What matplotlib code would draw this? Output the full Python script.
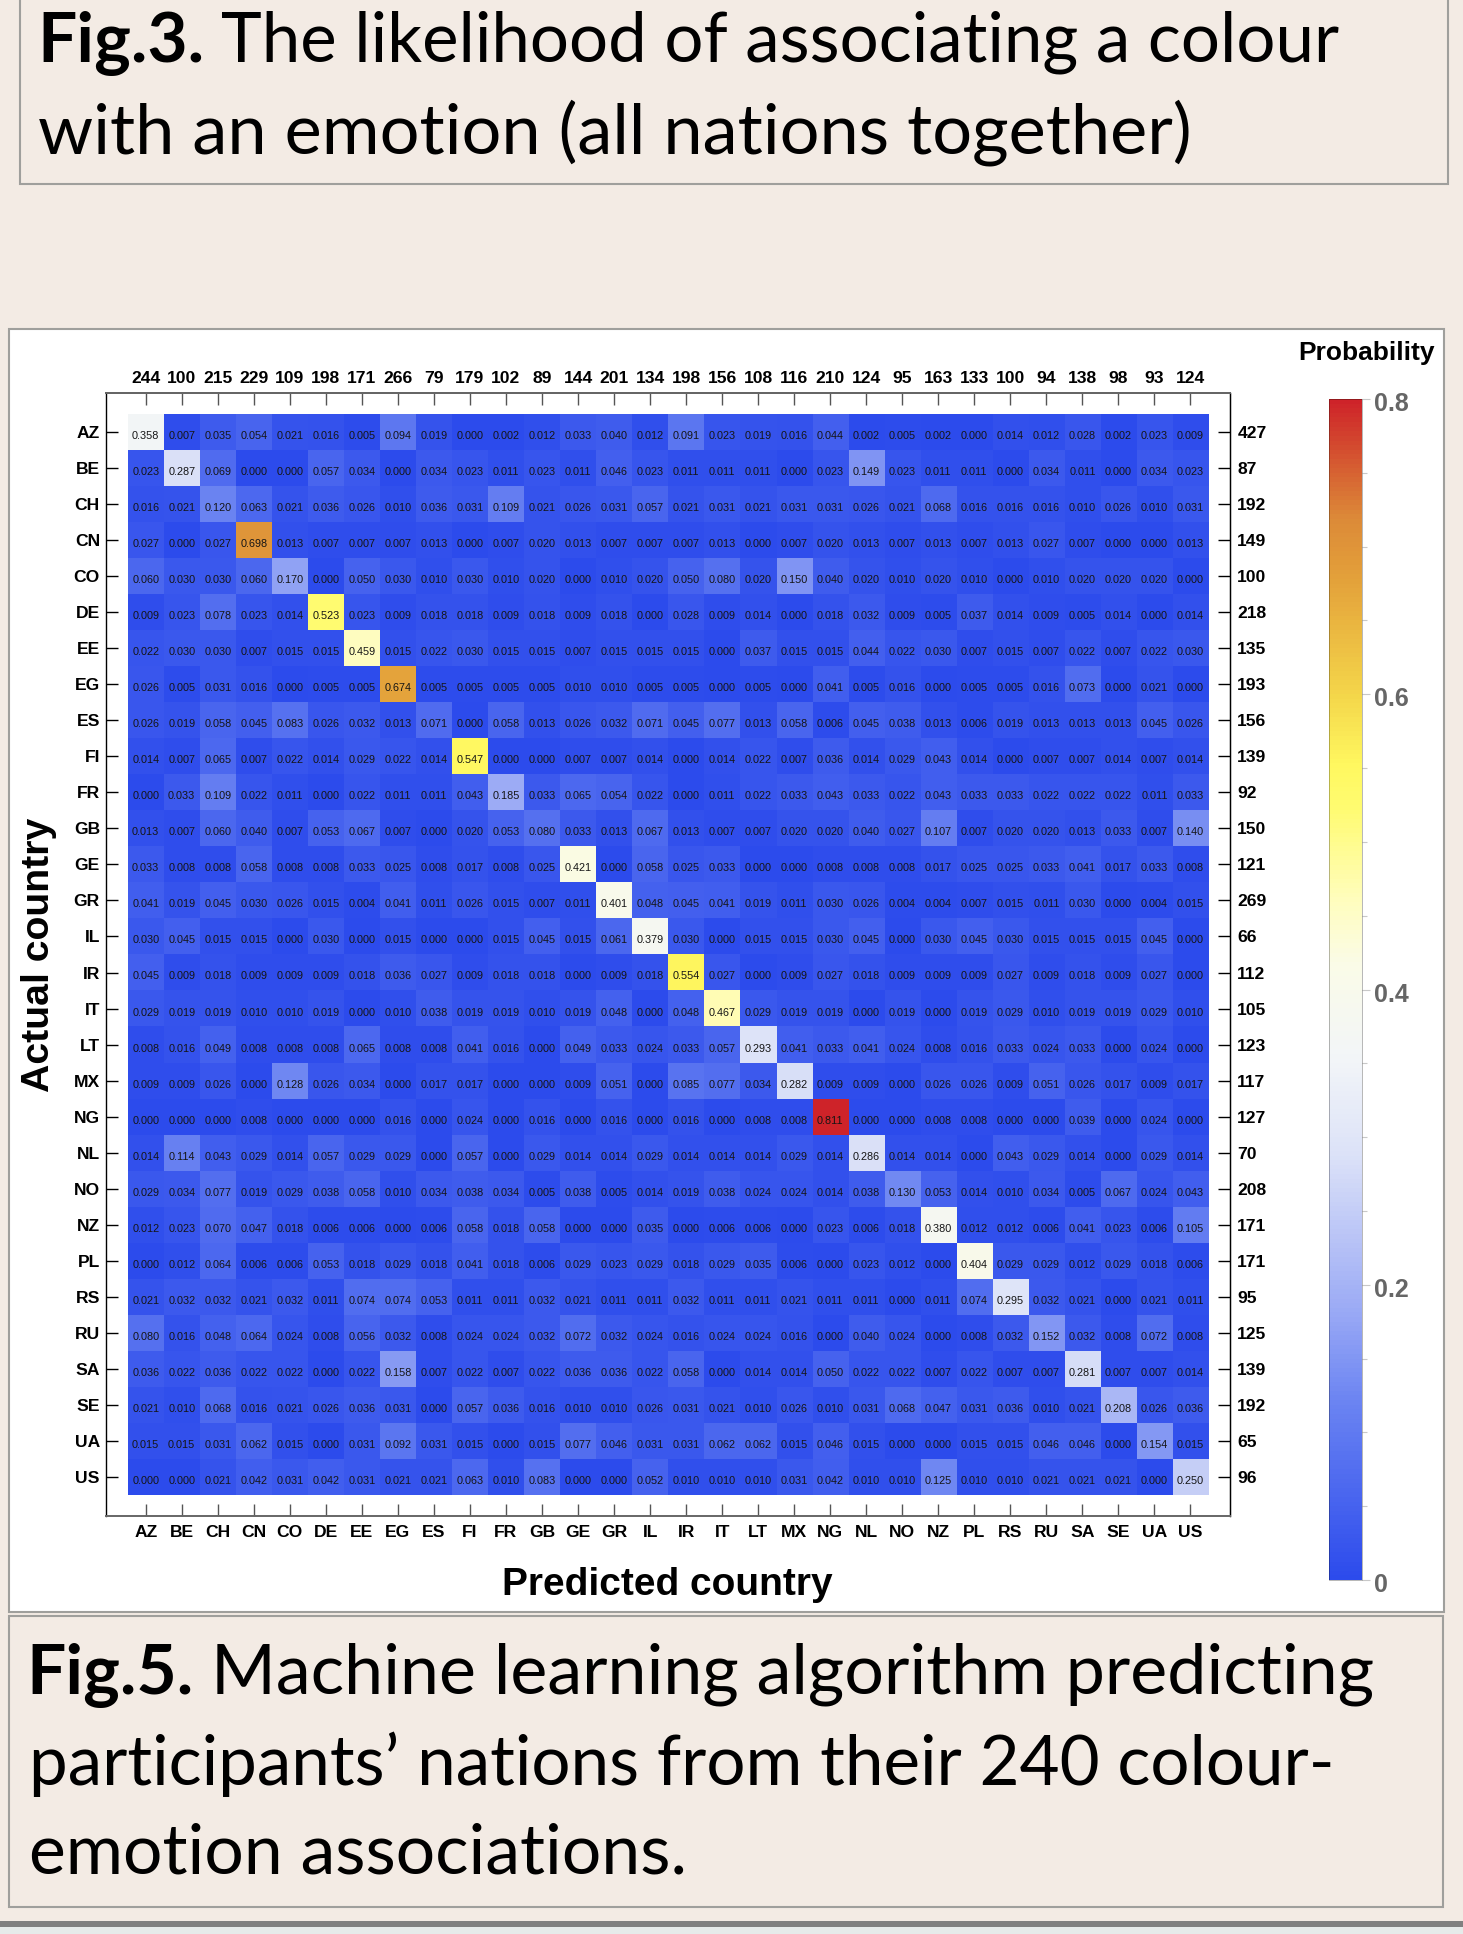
import numpy as np
import matplotlib
matplotlib.use('Agg')
from matplotlib import pyplot as plt
from matplotlib.colors import LinearSegmentedColormap
from matplotlib.patches import Rectangle
from matplotlib.transforms import ScaledTranslation

W, H = 1463, 1934
BG = '#f3ebe4'

countries = ['AZ','BE','CH','CN','CO','DE','EE','EG','ES','FI','FR','GB','GE','GR','IL',
             'IR','IT','LT','MX','NG','NL','NO','NZ','PL','RS','RU','SA','SE','UA','US']
col_totals = [244,100,215,229,109,198,171,266,79,179,102,89,144,201,134,
              198,156,108,116,210,124,95,163,133,100,94,138,98,93,124]
row_totals = [427,87,192,149,100,218,135,193,156,139,92,150,121,269,66,
              112,105,123,117,127,70,208,171,171,95,125,139,192,65,96]

az = [.358,.007,.035,.054,.021,.016,.005,.094,.019,0,.002,.012,.033,.040,.012,.091,.023,.019,.016,.044,.002,.005,.002,0,.014,.012,.028,.002,.023,.009]
be = [.023,.287,.069,0,0,.057,.034,0,.034,.023,.011,.023,.011,.046,.023,.011,.011,.011,0,.023,.149,.023,.011,.011,0,.034,.011,0,.034,.023]
ch = [.016,.021,.120,.063,.021,.036,.026,.010,.036,.031,.109,.021,.026,.031,.057,.021,.031,.021,.031,.031,.026,.021,.068,.016,.016,.016,.010,.026,.010,.031]
cn = [.027,0,.027,.698,.013,.007,.007,.007,.013,0,.007,.020,.013,.007,.007,.007,.013,0,.007,.020,.013,.007,.013,.007,.013,.027,.007,0,0,.013]
co = [.060,.030,.030,.060,.170,0,.050,.030,.010,.030,.010,.020,0,.010,.020,.050,.080,.020,.150,.040,.020,.010,.020,.010,0,.010,.020,.020,.020,0]
de = [.009,.023,.078,.023,.014,.523,.023,.009,.018,.018,.009,.018,.009,.018,0,.028,.009,.014,0,.018,.032,.009,.005,.037,.014,.009,.005,.014,0,.014]
ee = [.022,.030,.030,.007,.015,.015,.459,.015,.022,.030,.015,.015,.007,.015,.015,.015,0,.037,.015,.015,.044,.022,.030,.007,.015,.007,.022,.007,.022,.030]
eg = [.026,.005,.031,.016,0,.005,.005,.674,.005,.005,.005,.005,.010,.010,.005,.005,0,.005,0,.041,.005,.016,0,.005,.005,.016,.073,0,.021,0]
es = [.026,.019,.058,.045,.083,.026,.032,.013,.071,0,.058,.013,.026,.032,.071,.045,.077,.013,.058,.006,.045,.038,.013,.006,.019,.013,.013,.013,.045,.026]
fi = [.014,.007,.065,.007,.022,.014,.029,.022,.014,.547,0,0,.007,.007,.014,0,.014,.022,.007,.036,.014,.029,.043,.014,0,.007,.007,.014,.007,.014]
fr = [0,.033,.109,.022,.011,0,.022,.011,.011,.043,.185,.033,.065,.054,.022,0,.011,.022,.033,.043,.033,.022,.043,.033,.033,.022,.022,.022,.011,.033]
gb = [.013,.007,.060,.040,.007,.053,.067,.007,0,.020,.053,.080,.033,.013,.067,.013,.007,.007,.020,.020,.040,.027,.107,.007,.020,.020,.013,.033,.007,.140]
ge = [.033,.008,.008,.058,.008,.008,.033,.025,.008,.017,.008,.025,.421,0,.058,.025,.033,0,0,.008,.008,.008,.017,.025,.025,.033,.041,.017,.033,.008]
gr = [.041,.019,.045,.030,.026,.015,.004,.041,.011,.026,.015,.007,.011,.401,.048,.045,.041,.019,.011,.030,.026,.004,.004,.007,.015,.011,.030,0,.004,.015]
il = [.030,.045,.015,.015,0,.030,0,.015,0,0,.015,.045,.015,.061,.379,.030,0,.015,.015,.030,.045,0,.030,.045,.030,.015,.015,.015,.045,0]
ir = [.045,.009,.018,.009,.009,.009,.018,.036,.027,.009,.018,.018,0,.009,.018,.554,.027,0,.009,.027,.018,.009,.009,.009,.027,.009,.018,.009,.027,0]
it = [.029,.019,.019,.010,.010,.019,0,.010,.038,.019,.019,.010,.019,.048,0,.048,.467,.029,.019,.019,0,.019,0,.019,.029,.010,.019,.019,.029,.010]
lt = [.008,.016,.049,.008,.008,.008,.065,.008,.008,.041,.016,0,.049,.033,.024,.033,.057,.293,.041,.033,.041,.024,.008,.016,.033,.024,.033,0,.024,0]
mx = [.009,.009,.026,0,.128,.026,.034,0,.017,.017,0,0,.009,.051,0,.085,.077,.034,.282,.009,.009,0,.026,.026,.009,.051,.026,.017,.009,.017]
ng = [0,0,0,.008,0,0,0,.016,0,.024,0,.016,0,.016,0,.016,0,.008,.008,.811,0,0,.008,.008,0,0,.039,0,.024,0]
nl = [.014,.114,.043,.029,.014,.057,.029,.029,0,.057,0,.029,.014,.014,.029,.014,.014,.014,.029,.014,.286,.014,.014,0,.043,.029,.014,0,.029,.014]
no = [.029,.034,.077,.019,.029,.038,.058,.010,.034,.038,.034,.005,.038,.005,.014,.019,.038,.024,.024,.014,.038,.130,.053,.014,.010,.034,.005,.067,.024,.043]
nz = [.012,.023,.070,.047,.018,.006,.006,0,.006,.058,.018,.058,0,0,.035,0,.006,.006,0,.023,.006,.018,.380,.012,.012,.006,.041,.023,.006,.105]
pl = [0,.012,.064,.006,.006,.053,.018,.029,.018,.041,.018,.006,.029,.023,.029,.018,.029,.035,.006,0,.023,.012,0,.404,.029,.029,.012,.029,.018,.006]
rs = [.021,.032,.032,.021,.032,.011,.074,.074,.053,.011,.011,.032,.021,.011,.011,.032,.011,.011,.021,.011,.011,0,.011,.074,.295,.032,.021,0,.021,.011]
ru = [.080,.016,.048,.064,.024,.008,.056,.032,.008,.024,.024,.032,.072,.032,.024,.016,.024,.024,.016,0,.040,.024,0,.008,.032,.152,.032,.008,.072,.008]
sa = [.036,.022,.036,.022,.022,0,.022,.158,.007,.022,.007,.022,.036,.036,.022,.058,0,.014,.014,.050,.022,.022,.007,.022,.007,.007,.281,.007,.007,.014]
se = [.021,.010,.068,.016,.021,.026,.036,.031,0,.057,.036,.016,.010,.010,.026,.031,.021,.010,.026,.010,.031,.068,.047,.031,.036,.010,.021,.208,.026,.036]
ua = [.015,.015,.031,.062,.015,0,.031,.092,.031,.015,0,.015,.077,.046,.031,.031,.062,.062,.015,.046,.015,0,0,.015,.015,.046,.046,0,.154,.015]
us = [0,0,.021,.042,.031,.042,.031,.021,.021,.063,.010,.083,0,0,.052,.010,.010,.010,.031,.042,.010,.010,.125,.010,.010,.021,.021,.021,0,.250]

probs = np.array([az,be,ch,cn,co,de,ee,eg,es,fi,fr,gb,ge,gr,il,ir,it,lt,mx,ng,nl,no,nz,pl,rs,ru,sa,se,ua,us])

# colour scale
cmap = LinearSegmentedColormap.from_list('temp', [
    (0.0, '#2c4bec'), (0.15, '#6b84f2'), (0.23, '#9cabf5'), (0.36, '#dce2f8'),
    (0.44, '#f2f5f8'), (0.52, '#fafbe8'), (0.575, '#fffdbe'), (0.655, '#fffb70'),
    (0.69, '#fff860'), (0.75, '#f4d64a'), (0.85, '#e3a03a'), (0.90, '#dc8a38'), (1.0, '#ce2329')])

def px_axes(x0, y0, x1, y1):
    return fig.add_axes([x0/W, 1-y1/H, (x1-x0)/W, (y1-y0)/H])

fig = plt.figure(figsize=(W/100, H/100), dpi=100, facecolor=BG)
plt.rcParams['font.family'] = 'Liberation Sans'

# page layer in pixel coords
page = fig.add_axes([0, 0, 1, 1])
page.set_xlim(0, W)
page.set_ylim(H, 0)
page.axis('off')
page.add_patch(Rectangle((19.5, -5), 1428.5, 188.5, fc=BG, ec='#9f9f9c', lw=1.5))
page.add_patch(Rectangle((8.5, 329), 1435, 1282.5, fc='white', ec='#9f9f9c', lw=1.5))
page.add_patch(Rectangle((8.5, 1616), 1434.5, 291, fc=BG, ec='#9f9f9c', lw=1.5))
page.add_patch(Rectangle((0, 1927), W, 7, fc='#e6ebea', ec='none'))
page.add_patch(Rectangle((0, 1921), W, 6, fc='#808080', ec='none'))

cap = dict(family='Lato', color='black', va='baseline')
page.text(37.5, 62, 'Fig.3.', fontsize=50, fontweight='bold', **cap)
page.text(221, 62, 'The likelihood of associating a colour', fontsize=49.7, **cap)
page.text(37.5, 153, 'with an emotion (all nations together)', fontsize=50.6, **cap)
page.text(26.5, 1694, 'Fig.5.', fontsize=50, fontweight='bold', **cap)
page.text(211, 1694, 'Machine learning algorithm predicting', fontsize=50.4, **cap)
page.text(29, 1785, 'participants\u2019 nations from their 240 colour-', fontsize=49.8, **cap)
page.text(29, 1873, 'emotion associations.', fontsize=50.2, **cap)

# heatmap
ax = px_axes(105.5, 392.7, 1230.4, 1516)
im = ax.imshow(probs, cmap=cmap, vmin=0, vmax=0.8, aspect='auto', interpolation='nearest')
ax.set_xlim(-1.116, 30.108)
ax.set_ylim(30.083, -1.091)
for r in range(30):
    for c in range(30):
        ax.text(c, r+0.11, '%.3f' % probs[r, c], ha='center', va='center',
                fontsize=7.8, color='#151515')

ticks = np.arange(30)
ax.set_xticks(ticks, countries)
ax.set_yticks(ticks, countries)
ax.tick_params(direction='in', length=8.5, width=1, color='#555555',
               labelsize=12.6, pad=4)
ax.tick_params(axis='x', pad=6.7)
ax.tick_params(axis='y', color='black')
for lab in ax.get_xticklabels() + ax.get_yticklabels():
    lab.set_fontweight('bold')
for s in ('top', 'bottom'):
    ax.spines[s].set_color('#666666')
    ax.spines[s].set_linewidth(1.4)
for s in ('left', 'right'):
    ax.spines[s].set_color('black')
    ax.spines[s].set_linewidth(1.0)

# totals on the top and right side
top = ax.secondary_xaxis('top')
top.set_xticks(ticks, [str(v) for v in col_totals])
top.tick_params(direction='in', length=8.5, width=1, color='#555555', labelsize=12.6, pad=5)
top.spines['top'].set_color('#666666')
top.spines['top'].set_linewidth(1.4)
right = ax.secondary_yaxis('right')
right.set_yticks(ticks, [str(v) for v in row_totals])
right.tick_params(direction='in', length=8.5, width=1, color='black', labelsize=12.6, pad=5)
for lab in top.get_xticklabels() + right.get_yticklabels():
    lab.set_fontweight('bold')

page.text(667, 1585, 'Predicted country', fontsize=28, fontweight='bold', ha='center', va='center')
page.text(39, 955, 'Actual country', fontsize=28.3, fontweight='bold', rotation=90, ha='center', va='center')

# legend bar
cax = px_axes(1329, 399, 1362, 1580)
cb = fig.colorbar(im, cax=cax)
cb.set_ticks([0, 0.2, 0.4, 0.6, 0.8], labels=['0', '0.2', '0.4', '0.6', '0.8'])
cb.set_ticks(np.arange(0, 0.81, 0.05), minor=True)
cb.outline.set_edgecolor('#00000055')
cb.outline.set_linewidth(0.6)
cax.tick_params(which='major', length=5.8, width=0.8, color='#c8c8c8', labelsize=18,
                labelcolor='#666666', pad=2.5)
cax.tick_params(which='minor', length=3.6, width=0.8, color='#c8c8c8')
shift = ScaledTranslation(0, -2.5/100, fig.dpi_scale_trans)
for lab in cax.get_yticklabels():
    lab.set_fontweight('bold')
    lab.set_transform(lab.get_transform() + shift)
page.text(1367, 353, 'Probability', fontsize=19, fontweight='bold', ha='center', va='center')

fig.savefig('out.png', dpi=100, facecolor=BG)
